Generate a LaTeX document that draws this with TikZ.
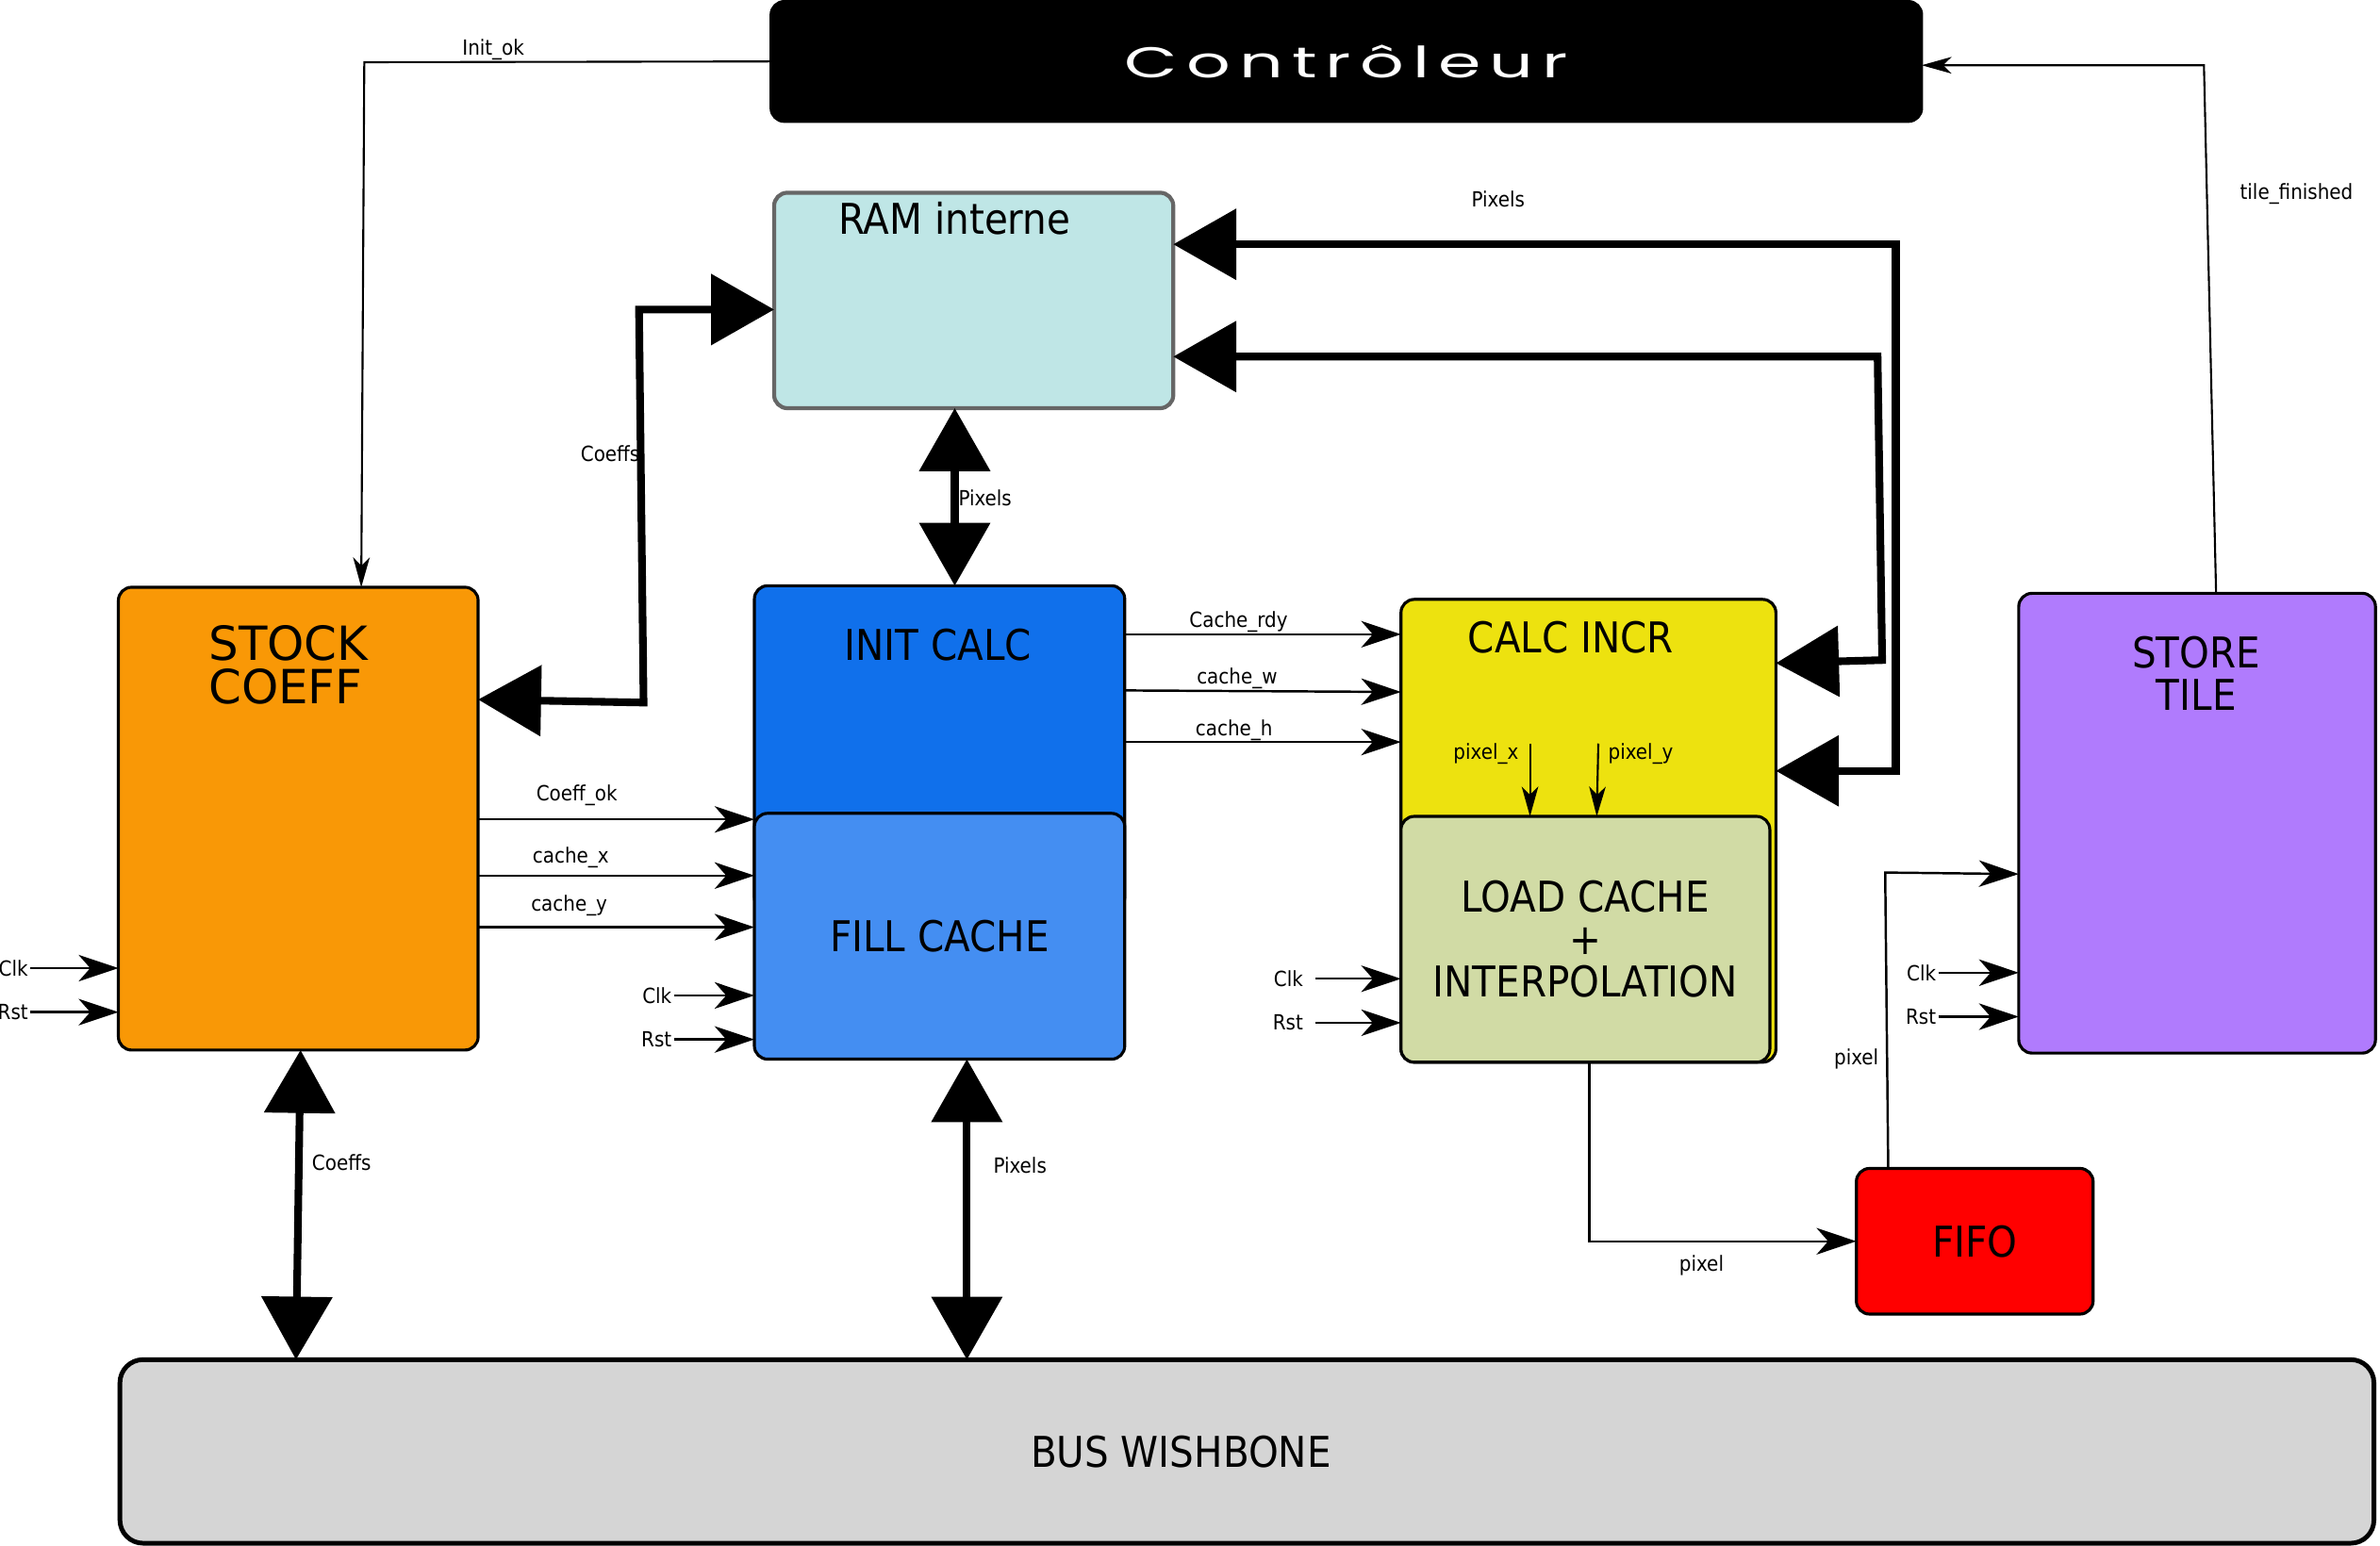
\documentclass[tikz,border=0pt]{standalone}
\usepackage{fontspec}
\setmainfont{DejaVu Sans Condensed}
\newfontfamily\widefont{DejaVu Sans}
\newfontfamily\ctrlfont[FakeStretch=1.6,LetterSpace=20]{Poppins}
\usetikzlibrary{arrows.meta}
\definecolor{ramc}{HTML}{BFE6E6}
\definecolor{ramb}{HTML}{666666}
\definecolor{stockc}{HTML}{F99806}
\definecolor{initcc}{HTML}{1070EB}
\definecolor{fillcc}{HTML}{448EF2}
\definecolor{calcc}{HTML}{EDE20F}
\definecolor{loadcc}{HTML}{D1DBA5}
\definecolor{storec}{HTML}{B07BFD}
\definecolor{fifoc}{HTML}{FF0000}
\definecolor{busc}{HTML}{D5D5D5}
\def\uu{0.016097cm}
\begin{document}
\begin{tikzpicture}[x=0.016097cm,y=-0.016097cm,
  blk/.style={draw=black, line width=0.9pt, rounded corners=4pt, inner sep=0pt, outer sep=0pt},
  sig/.style={line width=0.7pt, -{Stealth[length=12pt,width=8pt,inset=3.5pt]}},
  sigs/.style={line width=0.6pt, -{Stealth[length=9pt,width=5pt,inset=2.5pt]}},
  thick arrow/.style={line width=2.3pt, {Triangle[length=19pt,width=21pt]}-{Triangle[length=19pt,width=21pt]}},
  lbl/.style={font=\fontsize{6.3}{7}\selectfont, inner sep=0.5pt},
  title/.style={font=\fontsize{12.8}{12.8}\selectfont, align=center, inner sep=0pt}]
\useasboundingbox (0,0) rectangle (1568,1018.8);

% blocks
\node[blk, fill=black, minimum width=758*\uu, minimum height=79*\uu, text=white,
      font=\ctrlfont\fontsize{13}{13}\selectfont] (ctrl) at (887,40.5) {Contrôleur};
\node[blk, fill=ramc, draw=ramb, line width=1.2pt, minimum width=263*\uu, minimum height=142*\uu] (ram) at (641.5,198) {};
\node[title] (ramT) at (629,144) {RAM interne};

\node[blk, fill=stockc, minimum width=237*\uu, minimum height=305*\uu] (stock) at (196.5,539.5) {};
\node[font=\widefont\fontsize{14.2}{13.2}\selectfont, align=left, inner sep=0pt] (stockT) at (190,438) {STOCK\\COEFF};

\node[blk, fill=initcc, minimum width=244*\uu, minimum height=214*\uu] (initc) at (619,493) {};
\node[title] (initcT) at (618,425) {INIT CALC};
\node[blk, fill=fillcc, minimum width=244*\uu, minimum height=162*\uu, title] (fillc) at (619,617) {FILL CACHE};

\node[blk, fill=calcc, minimum width=247*\uu, minimum height=305*\uu] (calci) at (1046.5,547.5) {};
\node[title] (calciT) at (1035,420) {CALC INCR};
\node[blk, fill=loadcc, minimum width=243*\uu, minimum height=162*\uu, title] (loadc) at (1044.5,619) {LOAD CACHE\\+\\INTERPOLATION};

\node[blk, fill=storec, minimum width=235*\uu, minimum height=303*\uu] (store) at (1447.5,542.5) {};
\node[title] (storeT) at (1447,444) {STORE\\TILE};

\node[blk, fill=fifoc, minimum width=156*\uu, minimum height=96*\uu, title] (fifo) at (1301,818) {FIFO};

\node[blk, fill=busc, line width=1.4pt, rounded corners=7pt, minimum width=1485*\uu, minimum height=121*\uu] (bus) at (821.5,956.5) {};
\node[title] (busT) at (778,957) {BUS WISHBONE};

% controller links
\draw[sigs] (ctrl.west) -- (240,41) -- (238,0 |- stock.north);
\node[lbl] (initokL) at (325,33) {Init\_ok};
\draw[sigs] (1460,0 |- store.north) -- (1452,43) -- (ctrl.east |- 0,43);
\node[lbl] (tileL) at (1513,128) {tile\_finished};

% thick buses
\draw[thick arrow] (stock.east |- 0,461) -- (424,463) -- (421,204) -- (ram.west |- 0,204);
\node[lbl] (coeffsL1) at (402,299) {Coeffs};
\draw[thick arrow] (629,0 |- ram.south) -- (629,0 |- initc.north);
\node[lbl] (pixL1) at (649,328) {Pixels};
\draw[thick arrow] (ram.east |- 0,161) -- (1249,161) -- (1249,508) -- (calci.east |- 0,508);
\draw[thick arrow] (ram.east |- 0,235) -- (1237,235) -- (1240,435) -- (calci.east |- 0,437);
\node[lbl] (pixL2) at (987,131) {Pixels};
\draw[thick arrow] (198,0 |- stock.south) -- (195,0 |- bus.north);
\node[lbl] (coeffsL2) at (225,766) {Coeffs};
\draw[thick arrow] (637,0 |- fillc.south) -- (637,0 |- bus.north);
\node[lbl] (pixL3) at (672,768) {Pixels};

% stock -> fill cache
\draw[sig] (stock.east |- 0,540) -- (fillc.west |- 0,540);
\node[lbl] (cokL) at (380,524) {Coeff\_ok};
\draw[sig] (stock.east |- 0,577) -- (fillc.west |- 0,577);
\node[lbl] (cxL) at (376,565) {cache\_x};
\draw[sig] (stock.east |- 0,611) -- (fillc.west |- 0,611);
\node[lbl] (cyL) at (375,597) {cache\_y};

% init calc -> calc incr
\draw[sig] (initc.east |- 0,418) -- (calci.west |- 0,418);
\node[lbl] (crdyL) at (816,410) {Cache\_rdy};
\draw[sig] (initc.east |- 0,455) -- (calci.west |- 0,456);
\node[lbl] (cwL) at (815,447) {cache\_w};
\draw[sig] (initc.east |- 0,489) -- (calci.west |- 0,489);
\node[lbl] (chL) at (813,481) {cache\_h};

% pixel_x / pixel_y
\coordinate (pxs) at (1008,490);
\coordinate (pys) at (1053,490);
\draw[sigs] (pxs) -- (1008,0 |- loadc.north);
\draw[sigs] (pys) -- (1052,0 |- loadc.north);
\node[lbl] (pxL) at (979,497) {pixel\_x};
\node[lbl] (pyL) at (1081,497) {pixel\_y};

% load cache -> fifo -> store
\draw[sig] (1047,0 |- loadc.south) -- (1047,818) -- (fifo.west);
\node[lbl] (pixelL1) at (1121,834) {pixel};
\draw[sig] (1244,0 |- fifo.north) -- (1242,575) -- (store.west |- 0,576);
\node[lbl] (pixelL2) at (1223,698) {pixel};

% Clk / Rst
\node[lbl, anchor=east] (clk1) at (20,638) {Clk};
\draw[sig] (clk1.east) -- (stock.west |- clk1.east);
\node[lbl, anchor=east] (rst1) at (20,667) {Rst};
\draw[sig] (rst1.east) -- (stock.west |- rst1.east);
\node[lbl, anchor=east] (clk2) at (444,656) {Clk};
\draw[sig] (clk2.east) -- (fillc.west |- clk2.east);
\node[lbl, anchor=east] (rst2) at (444,685) {Rst};
\draw[sig] (rst2.east) -- (fillc.west |- rst2.east);
\node[lbl, anchor=east] (clk3) at (860,645) {Clk};
\draw[sig] ([xshift=3pt]clk3.east) -- (loadc.west |- clk3.east);
\node[lbl, anchor=east] (rst3) at (860,674) {Rst};
\draw[sig] ([xshift=3pt]rst3.east) -- (loadc.west |- rst3.east);
\node[lbl, anchor=east] (clk4) at (1277,641) {Clk};
\draw[sig] (clk4.east) -- (store.west |- clk4.east);
\node[lbl, anchor=east] (rst4) at (1277,670) {Rst};
\draw[sig] (rst4.east) -- (store.west |- rst4.east);
\end{tikzpicture}
\end{document}
